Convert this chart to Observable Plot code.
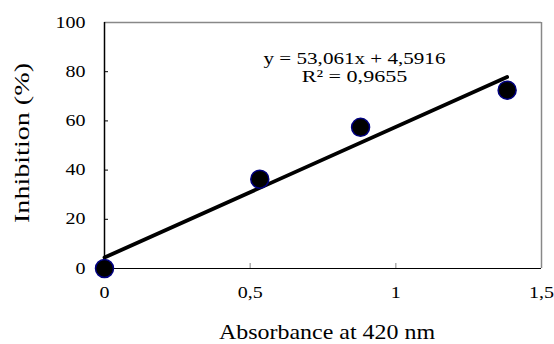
<!DOCTYPE html>
<html>
<head>
<meta charset="utf-8">
<script src="https://cdn.jsdelivr.net/npm/d3@7"></script>
<script src="https://cdn.jsdelivr.net/npm/@observablehq/plot@0.6"></script>
<style>
  html, body { margin: 0; padding: 0; background: #fff; }
  #chart svg { display: block; }
  #chart svg text { font-family: "Liberation Serif", "Times New Roman", serif !important; }
</style>
</head>
<body>
<div id="chart"></div>
<script>
const absorbance = [0, 0.533, 0.879, 1.382];
const inhibition = [0, 36.3, 57.4, 72.5];
const xTicks = [0, 0.5, 1, 1.5];
const yTicks = [0, 20, 40, 60, 80, 100];
const equationLines = ["y = 53,061x + 4,5916", "R² = 0,9655"];
const xTitle = "Absorbance at 420 nm";
const yTitle = "Inhibition (%)";

const data = absorbance.map((x, i) => ({x, y: inhibition[i]}));
const fmt = d => String(d).replace(".", ",");
const serif = "Liberation Serif";

const chart = Plot.plot({
  width: 554,
  height: 344,
  marginLeft: 104,
  marginRight: 13,
  marginTop: 22,
  marginBottom: 76,
  style: {fontFamily: serif, fontSize: "16px", background: "#fff", color: "#000"},
  x: {domain: [0, 1.5]},
  y: {domain: [0, 100]},
  marks: [
    Plot.ruleY([100], {stroke: "#888", strokeWidth: 1.5}),
    Plot.ruleX([1.5], {stroke: "#888", strokeWidth: 1.5}),
    Plot.axisX({ticks: [0.5, 1], tickSize: 5, dy: -5, text: null, label: null, stroke: "#999", strokeWidth: 1.2}),
    Plot.axisY({ticks: yTicks.slice(1, -1), tickSize: 4, dx: 4, text: null, label: null, stroke: "#000"}),
    Plot.axisX({ticks: xTicks, tickFormat: fmt, tickSize: 0, tickPadding: 18, fontSize: 16, fontFamily: serif, label: null}),
    Plot.axisY({ticks: yTicks, tickFormat: fmt, tickSize: 0, tickPadding: 19, fontSize: 16, fontFamily: serif, label: null}),
    Plot.ruleY([0], {stroke: "#000", strokeWidth: 1.2}),
    Plot.ruleX([0], {stroke: "#000", strokeWidth: 1.5}),
    Plot.linearRegressionY(data, {x: "x", y: "y", ci: 0, stroke: "#000", strokeWidth: 3.8}),
    Plot.dot(data, {x: "x", y: "y", r: 9, fill: "#000", stroke: "#000080", strokeWidth: 1.5}),
    Plot.text([equationLines[0]], {text: d => d, frameAnchor: "top", textAnchor: "middle", dx: 31.5, dy: 36.5, lineAnchor: "middle", fontSize: 17, fontFamily: serif, fill: "#000"}),
    Plot.text([equationLines[1]], {text: d => d, frameAnchor: "top", textAnchor: "middle", dx: 31.5, dy: 54, lineAnchor: "middle", fontSize: 17, fontFamily: serif, fill: "#000"}),
    Plot.text([xTitle], {text: d => d, frameAnchor: "bottom", textAnchor: "middle", dx: 4, dy: 63, lineAnchor: "middle", fontSize: 22, fontFamily: serif, fill: "#000"}),
    Plot.text([yTitle], {text: d => d, frameAnchor: "left", textAnchor: "middle", dx: -83, dy: -2.5, rotate: -90, lineAnchor: "middle", fontSize: 22, fontFamily: serif, fill: "#000"})
  ]
});

document.getElementById("chart").appendChild(chart);

// widen the glyphs horizontally like the reference's stretched typesetting,
// then re-anchor so the stretched text stays centred / right-aligned
function stretch(node, factor, fixed) {
  const L = fixed || node.getComputedTextLength() * factor;
  node.setAttribute("textLength", L);
  node.setAttribute("lengthAdjust", "spacingAndGlyphs");
  const anchor = getComputedStyle(node).textAnchor || "start";
  const x0 = parseFloat(node.getAttribute("x")) || 0;
  const b = node.getBBox();
  let shift = 0;
  if (anchor === "middle") shift = x0 - (b.x + b.width / 2);
  else if (anchor === "end") shift = x0 - (b.x + b.width);
  if (Math.abs(shift) > 0.3) node.setAttribute("dx", shift);
}
const tickLabels = new Set([...xTicks, ...yTicks].map(fmt));
d3.select(chart).selectAll("text").each(function () {
  const s = this.textContent;
  if (s === equationLines[0]) stretch(this, 1.24);
  else if (s === equationLines[1]) stretch(this, 1.3);
  else if (s === xTitle) stretch(this, 1, 216);
  else if (s === yTitle) stretch(this, 1, 160);
  else if (tickLabels.has(s)) stretch(this, 1.25);
});
</script>
</body>
</html>
